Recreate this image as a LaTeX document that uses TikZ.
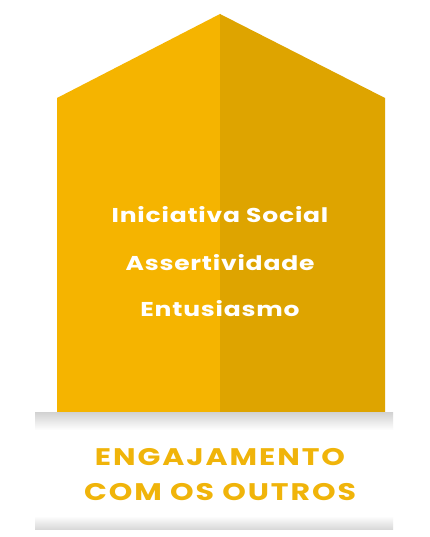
\documentclass[tikz,border=0pt]{standalone}
\usepackage{fontspec}
\setmainfont{Poppins}
\usepackage{xcolor}
\definecolor{casaclara}{RGB}{245,180,0}
\definecolor{casaescura}{RGB}{222,164,0}
\definecolor{textoamarelo}{RGB}{240,180,10}
\usetikzlibrary{positioning}
\tikzset{
  traco/.style={
    font=\fontsize{20}{20}\selectfont\bfseries\addfontfeatures{FakeStretch=1.25, LetterSpace=4},
    text=white, anchor=center
  },
  titulo/.style={
    font=\fontsize{24}{24}\selectfont\bfseries\addfontfeatures{FakeStretch=1.25, LetterSpace=8},
    text=textoamarelo, anchor=center
  },
}
\begin{document}
\begin{tikzpicture}[x=1pt, y=-1pt]

  % --- Moldura ---
  \fill[white] (0,0) rectangle (430,537);
  \useasboundingbox (0,0) rectangle (430,537);

  % --- Casa: metade clara e metade escura ---
  \fill[casaclara]  (57,98) -- (220,14) -- (220,414) -- (57,414) -- cycle;
  \fill[casaescura] (220,14) -- (385,98) -- (385,414) -- (220,414) -- cycle;

  % --- Faixa branca com sombra ---
  \fill[white] (35,412) rectangle (393,529);
  \fill[top color=black!18, bottom color=white] (35,412) rectangle (393,430);
  \fill[top color=white, bottom color=black!15] (35,516) rectangle (393,529);

  % --- Textos ---
  \node (ini)  [traco] at (220,215) {Iniciativa Social};
  \node (ass)  [traco] at (220,263) {Assertividade};
  \node (ent)  [traco] at (220,309) {Entusiasmo};

  \node (eng)  [titulo] at (220,457) {ENGAJAMENTO};
  \node (com)  [titulo] at (220,492) {COM OS OUTROS};

\end{tikzpicture}
\end{document}
